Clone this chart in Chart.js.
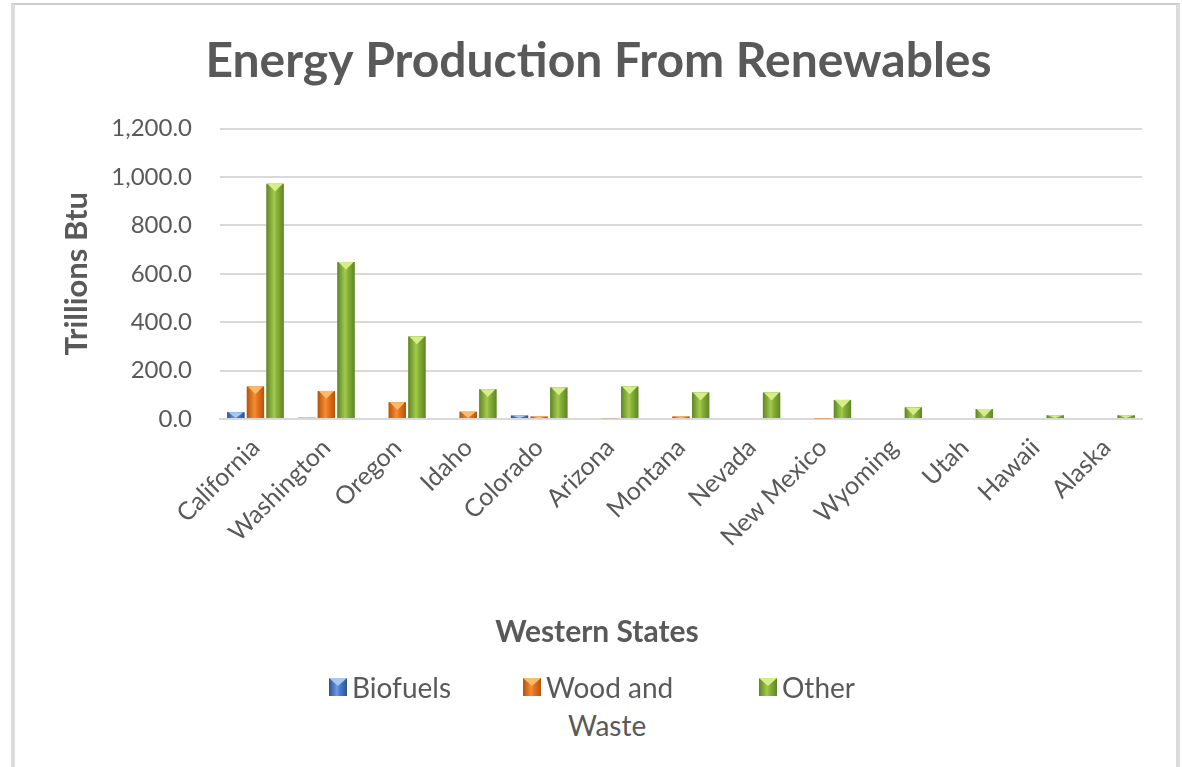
<!DOCTYPE html>
<html>
<head>
<meta charset="utf-8">
<script src="https://cdn.jsdelivr.net/npm/chart.js@4/dist/chart.umd.min.js"></script>
<style>
  html, body { margin: 0; padding: 0; background: #fff; }
  body { width: 1182px; height: 767px; position: relative; overflow: hidden; font-family: Lato, "Open Sans", sans-serif; }
  .frame {
    position: absolute; left: 11px; top: 3px; width: 1161px; height: 780px;
    border-top: 2px solid #cccccc; border-left: 4px solid #dcdcdc; border-right: 4px solid #dcdcdc;
  }
  #wrap { position: absolute; left: 0; top: 0; width: 1182px; height: 680px; }
  .xtitle {
    position: absolute; left: 397px; width: 400px; top: 611px; text-align: center;
    color: #595959; font-size: 30px; font-weight: bold; line-height: 38px;
  }
  .legend { position: absolute; left: 0; top: 0; color: #595959; font-size: 28px; }
  .item { position: absolute; white-space: nowrap; line-height: 38px; }
  .item .sw { position: absolute; width: 18px; height: 18px; top: 10px; overflow: hidden; }
  .item .sw::after {
    content: ""; position: absolute; left: 0; top: 0; width: 18px; height: 8px;
    clip-path: polygon(0 0, 100% 0, 50% 100%);
  }
  .item .txt { position: absolute; }
</style>
</head>
<body>
<div class="frame"></div>
<div id="wrap"><canvas id="myChart" width="1182" height="680"></canvas></div>
<div class="xtitle">Western States</div>
<div class="legend" id="legend"></div>

<script>
// western states, trillions Btu
const states = ["California", "Washington", "Oregon", "Idaho", "Colorado", "Arizona",
    "Montana", "Nevada", "New Mexico", "Wyoming", "Utah", "Hawaii", "Alaska"];
const biofuels = [28, 5, 0, 4, 14, 0, 0, 0, 0, 0, 0, 0, 0];
const woodWaste = [134, 116, 69, 30, 10, 3, 10, 0, 2, 0, 0, 0, 0];
const other = [972, 649, 341, 123, 130, 134, 109, 109, 79, 48, 41, 15, 15];
const yTicks = [0, 200, 400, 600, 800, 1000, 1200];

const palette = [
    { name: "Biofuels", base: "#4a7ccb", dark: "#2c5493", light: "#6c9ce3", top: "#a8c8f2" },
    { name: "Wood and Waste", base: "#e8761f", dark: "#b65308", light: "#f48d35", top: "#fbbb6c" },
    { name: "Other", base: "#88b23a", dark: "#5f8526", light: "#a4cb4c", top: "#d5ee88" },
];

const textGrey = "#595959";

// shading + bevel on top of each bar
const bevelBars = {
    id: "bevelBars",
    afterDatasetsDraw(chart) {
        const c = chart.ctx;
        chart.data.datasets.forEach((ds, di) => {
            const meta = chart.getDatasetMeta(di);
            const p = palette[di];
            meta.data.forEach(bar => {
                const h = bar.base - bar.y;
                if (h <= 0.2) return;
                const w = bar.width;
                const l = bar.x - w / 2;
                const g = c.createLinearGradient(l, 0, l + w, 0);
                g.addColorStop(0, p.dark);
                g.addColorStop(0.45, p.light);
                g.addColorStop(0.6, p.base);
                g.addColorStop(1, p.dark);
                c.save();
                c.fillStyle = g;
                c.fillRect(l, bar.y, w, h);
                const th = Math.min(w * 0.45, h);
                c.beginPath();
                c.moveTo(l + 1, bar.y);
                c.lineTo(l + w - 1, bar.y);
                c.lineTo(bar.x, bar.y + th);
                c.closePath();
                c.fillStyle = p.top;
                c.fill();
                c.restore();
            });
        });
    }
};

const ctx = document.getElementById("myChart").getContext("2d");
const myChart = new Chart(ctx, {
    type: "bar",
    data: {
        labels: states,
        datasets: [
            { label: palette[0].name, data: biofuels, backgroundColor: palette[0].base },
            { label: palette[1].name, data: woodWaste, backgroundColor: palette[1].base },
            { label: palette[2].name, data: other, backgroundColor: palette[2].base },
        ]
    },
    options: {
        responsive: false,
        animation: false,
        categoryPercentage: 0.83,
        barPercentage: 0.88,
        layout: { padding: { left: 55, right: 40, top: 0, bottom: 21 } },
        scales: {
            x: {
                grid: { display: false },
                border: { display: true, color: "#d9d9d9", width: 2 },
                ticks: {
                    color: textGrey,
                    font: { family: "Lato", size: 25 },
                    minRotation: 45,
                    maxRotation: 45,
                    padding: 6
                },
                afterFit: s => { s.height = 240; }
            },
            y: {
                min: 0,
                max: 1200,
                afterBuildTicks: s => { s.ticks = yTicks.map(v => ({ value: v })); },
                grid: { color: "#d9d9d9", lineWidth: 2, drawTicks: false },
                border: { display: false },
                ticks: {
                    color: textGrey,
                    font: { family: "Lato", size: 24 },
                    padding: 28,
                    callback: v => v.toLocaleString("en-US", { minimumFractionDigits: 1, maximumFractionDigits: 1 })
                },
                title: {
                    display: true,
                    text: "Trillions Btu",
                    color: textGrey,
                    font: { family: "Lato", size: 31, weight: "bold" },
                    padding: { top: 3, bottom: 0 }
                },
                afterFit: s => { s.width = 165; }
            }
        },
        plugins: {
            legend: { display: false },
            tooltip: { enabled: false },
            title: {
                display: true,
                text: "Energy Production From Renewables",
                color: textGrey,
                font: { family: "Lato", size: 48, weight: "bold" },
                padding: { top: 33, bottom: 38 }
            }
        }
    },
    plugins: [bevelBars]
});

// legend under the chart
const legendSpots = [
    { left: 329, lines: ["Biofuels"] },
    { left: 523, lines: ["Wood and", "Waste"] },
    { left: 759, lines: ["Other"] },
];
const legendDiv = document.getElementById("legend");
legendSpots.forEach((spot, i) => {
    const p = palette[i];
    const item = document.createElement("div");
    item.className = "item";
    item.style.left = spot.left + "px";
    item.style.top = "668px";
    item.innerHTML = `
        <span class="sw" style="left:0;background:linear-gradient(90deg, ${p.dark}, ${p.light} 45%, ${p.base} 60%, ${p.dark})"></span>
        <span class="txt" style="left:23px;top:0">${spot.lines[0]}</span>
        ${spot.lines[1] ? `<span class="txt" style="left:45px;top:38px">${spot.lines[1]}</span>` : ""}
    `;
    legendDiv.appendChild(item);
});
palette.forEach((p, i) => {
    const st = document.createElement("style");
    st.textContent = `.item:nth-child(${i + 1}) .sw::after { background: ${p.top}; }`;
    document.head.appendChild(st);
});
</script>
</body>
</html>
